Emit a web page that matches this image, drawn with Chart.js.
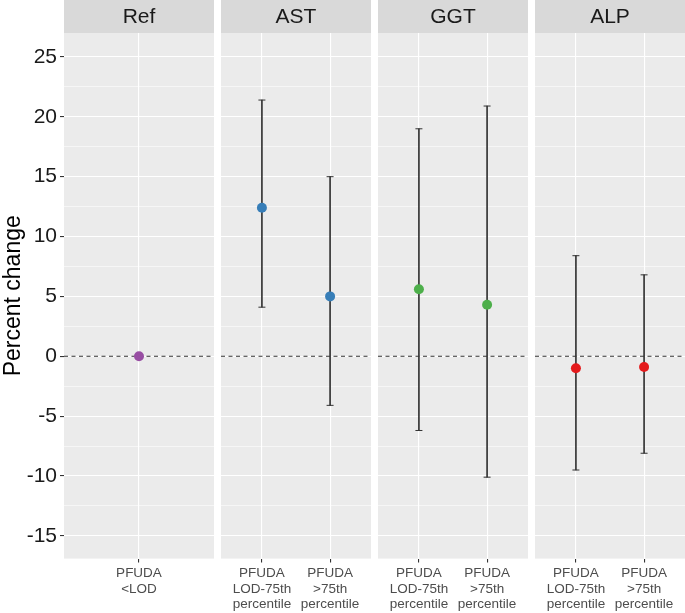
<!DOCTYPE html>
<html>
<head>
<meta charset="utf-8">
<script src="https://cdn.jsdelivr.net/npm/chart.js@4.4.1/dist/chart.umd.min.js"></script>
<style>
  html, body { margin: 0; padding: 0; background: #fff; }
  #wrap { position: relative; width: 685px; height: 613px; }
  #wrap canvas { position: absolute; top: 0; }
</style>
</head>
<body>
<div id="wrap">
  <canvas id="c0" width="214" height="613" style="left:0px"></canvas>
  <canvas id="c1" width="150" height="613" style="left:221px"></canvas>
  <canvas id="c2" width="150" height="613" style="left:378px"></canvas>
  <canvas id="c3" width="150" height="613" style="left:535px"></canvas>
</div>
<script>
const FONT = '"Liberation Sans", Arial, sans-serif';

// facets
const panelNames = ['Ref', 'AST', 'GGT', 'ALP'];
const panelColors = ['#984EA3', '#377EB8', '#4DAF4A', '#E41A1C'];

// x categories
const refLabels = [['PFUDA', '<LOD']];
const groupLabels = [['PFUDA', 'LOD-75th', 'percentile'], ['PFUDA', '>75th', 'percentile']];

// percent change estimates and 95% CI
const refEst = [0];
const astEst = [12.4, 5.0];
const astLow = [4.1, -4.1];
const astHigh = [21.4, 15.0];
const ggtEst = [5.6, 4.3];
const ggtLow = [-6.2, -10.1];
const ggtHigh = [19.0, 20.9];
const alpEst = [-1.0, -0.9];
const alpLow = [-9.5, -8.1];
const alpHigh = [8.4, 6.8];

// y axis
const yTicks = [-15, -10, -5, 0, 5, 10, 15, 20, 25];
const yMin = -16.9;
const yMax = 27.0;

// minor grid lines halfway between the labelled ticks
const yGrid = [];
yTicks.forEach((v, i) => {
  yGrid.push(v);
  if (i < yTicks.length - 1) yGrid.push((v + yTicks[i + 1]) / 2);
});

const facetPlugin = {
  id: 'facet',
  beforeDraw(chart, args, opts) {
    const { ctx, chartArea: a } = chart;
    ctx.save();
    ctx.fillStyle = '#EBEBEB';
    ctx.fillRect(a.left, a.top, a.right - a.left, a.bottom - a.top);
    ctx.fillStyle = '#D9D9D9';
    ctx.fillRect(a.left, 0, a.right - a.left, a.top);
    ctx.fillStyle = '#1A1A1A';
    ctx.font = '21px ' + FONT;
    ctx.textAlign = 'center';
    ctx.textBaseline = 'middle';
    ctx.fillText(opts.label, (a.left + a.right) / 2, a.top / 2 + 1);
    ctx.restore();
  },
  beforeDatasetsDraw(chart) {
    // dashed reference line at 0
    const { ctx, chartArea: a, scales } = chart;
    const py = scales.y.getPixelForValue(0);
    ctx.save();
    ctx.strokeStyle = '#333';
    ctx.lineWidth = 1;
    ctx.setLineDash([4, 3.5]);
    ctx.beginPath();
    ctx.moveTo(a.left, py);
    ctx.lineTo(a.right, py);
    ctx.stroke();
    ctx.restore();
  }
};

function makePanel(id, idx, labels, est, low, high) {
  const first = idx === 0;
  const datasets = [{
    type: 'scatter',
    data: est.map((v, i) => ({ x: i + 1, y: v })),
    backgroundColor: panelColors[idx],
    borderWidth: 0,
    pointRadius: 5,
    pointHoverRadius: 5
  }];
  if (low) {
    datasets.push({
      type: 'scatter',
      data: low.map((v, i) => ({ x: i + 1, y: v })).concat(high.map((v, i) => ({ x: i + 1, y: v }))),
      pointStyle: 'line',
      pointRadius: 3.5,
      borderColor: '#333',
      borderWidth: 1
    });
    datasets.push({
      type: 'bar',
      data: low.map((v, i) => ({ x: i + 1, y: [v, high[i]] })),
      backgroundColor: '#333',
      borderWidth: 0,
      barThickness: 1
    });
  }

  new Chart(document.getElementById(id), {
    type: 'scatter',
    data: { datasets },
    options: {
      responsive: false,
      animation: false,
      layout: { autoPadding: false, padding: { top: 33, left: 0, right: 0, bottom: 0 } },
      plugins: {
        legend: { display: false },
        tooltip: { enabled: false },
        facet: { label: panelNames[idx] }
      },
      scales: {
        x: {
          type: 'linear',
          min: 0.4,
          max: labels.length + 0.6,
          offset: false,
          afterBuildTicks: (ax) => { ax.ticks = labels.map((l, i) => ({ value: i + 1 })); },
          afterFit: (s) => { s.height = 54.4; s.paddingLeft = 0; s.paddingRight = 0; },
          ticks: {
            autoSkip: false,
            maxRotation: 0,
            callback: (v, i) => labels[i],
            color: '#4D4D4D',
            font: { family: FONT, size: 13.5, lineHeight: 1.15 },
            padding: 3
          },
          grid: { color: '#FFFFFF', lineWidth: 1.1, tickColor: '#333', tickLength: 4, offset: false },
          border: { display: false }
        },
        y: {
          min: yMin,
          max: yMax,
          afterBuildTicks: (ax) => { ax.ticks = yGrid.map(v => ({ value: v })); },
          afterFit: (s) => { s.width = first ? 64 : 0; s.paddingTop = 0; s.paddingBottom = 0; },
          ticks: {
            display: first,
            autoSkip: false,
            callback: (v) => yTicks.includes(v) ? String(v) : '',
            color: '#1A1A1A',
            font: { family: FONT, size: 21 },
            padding: 3
          },
          grid: {
            color: '#FFFFFF',
            lineWidth: (c) => yTicks.includes(c.tick.value) ? 1.1 : 0.55,
            tickColor: (c) => yTicks.includes(c.tick.value) ? '#333' : 'rgba(0,0,0,0)',
            tickLength: 4,
            drawTicks: first
          },
          border: { display: false },
          title: {
            display: first,
            text: 'Percent change',
            color: '#000',
            font: { family: FONT, size: 23 },
            padding: 0
          }
        }
      }
    },
    plugins: [facetPlugin]
  });
}

makePanel('c0', 0, refLabels, refEst);
makePanel('c1', 1, groupLabels, astEst, astLow, astHigh);
makePanel('c2', 2, groupLabels, ggtEst, ggtLow, ggtHigh);
makePanel('c3', 3, groupLabels, alpEst, alpLow, alpHigh);
</script>
</body>
</html>
